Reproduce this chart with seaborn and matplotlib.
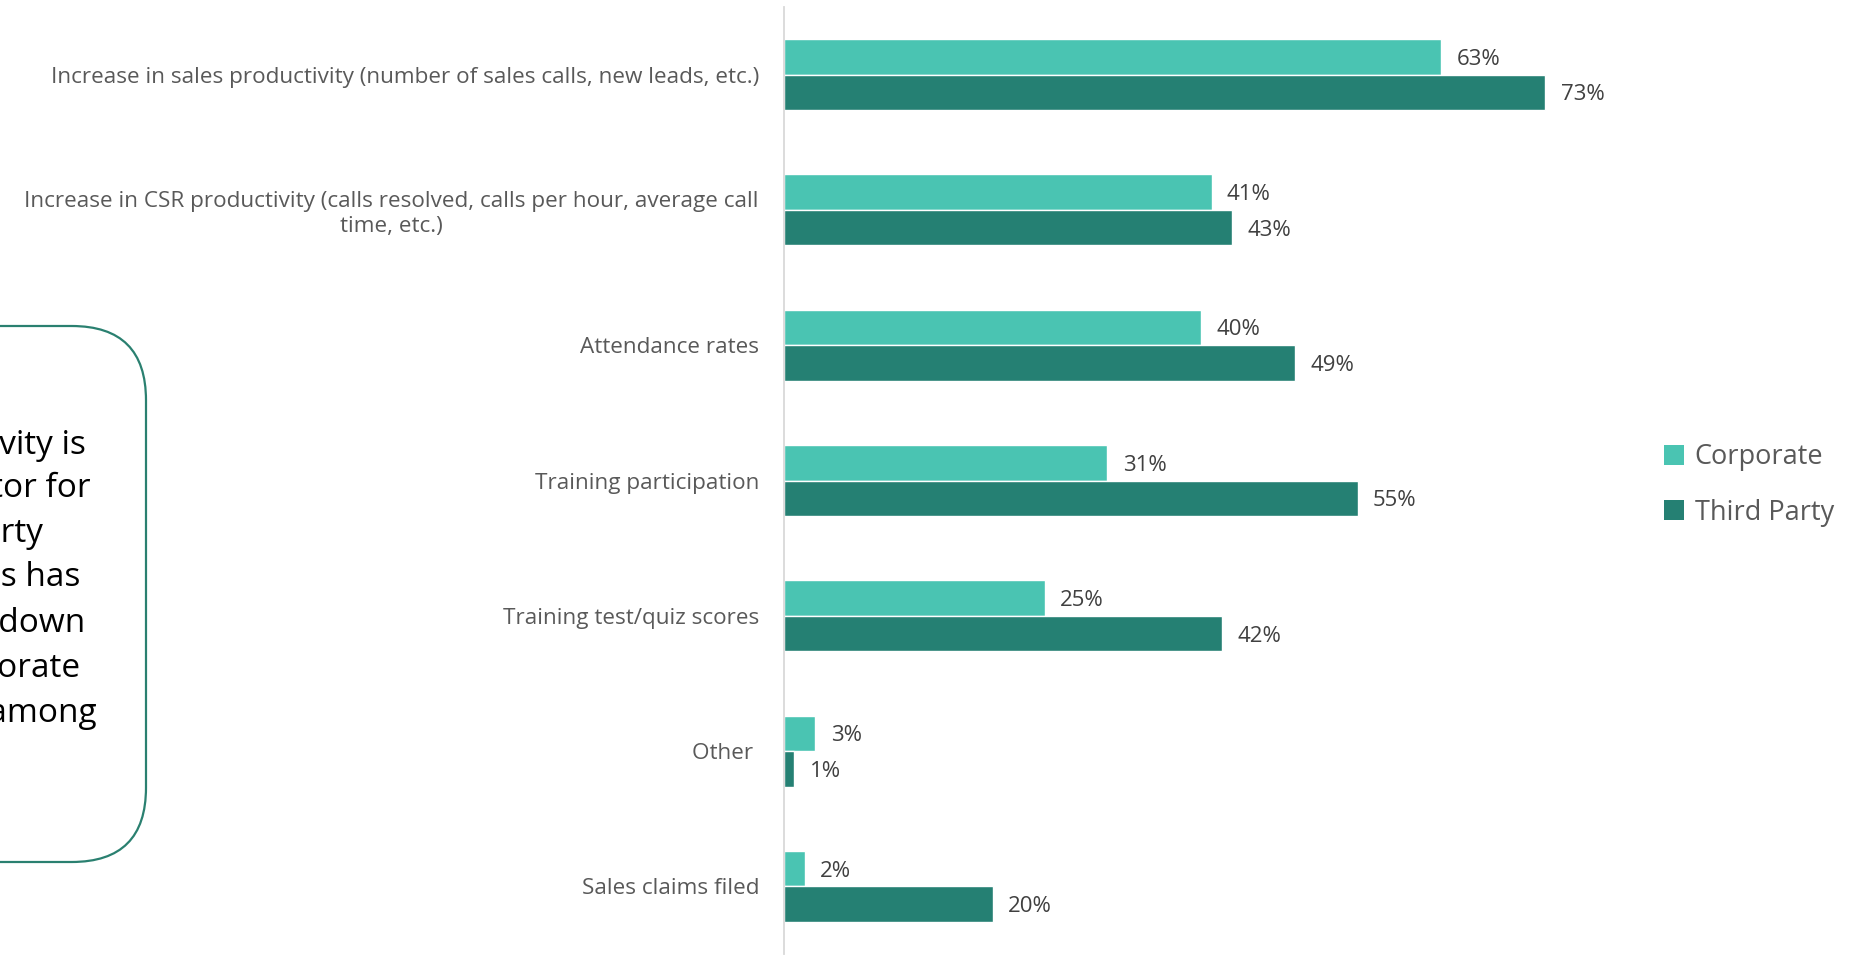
import matplotlib
matplotlib.use("Agg")
import matplotlib.pyplot as plt
from matplotlib.patches import FancyBboxPatch, Patch
import seaborn as sns
import pandas as pd

categories = [
    "Increase in sales productivity (number of sales calls, new leads, etc.)",
    "Increase in CSR productivity (calls resolved, calls per hour, average call\ntime, etc.)",
    "Attendance rates",
    "Training participation",
    "Training test/quiz scores",
    "Other ",
    "Sales claims filed",
]
corporate = [63, 41, 40, 31, 25, 3, 2]
third_party = [73, 43, 49, 55, 42, 1, 20]
series = ["Corporate", "Third Party"]
colors = ["#4AC4B2", "#258073"]

box_lines = [
    "Sales productivity is",
    "the top indicator for",
    "third party",
    "programs, this has",
    "trended down",
    "for corporate",
    "programs among",
]

sns.set_theme(style="white")
plt.rcParams["font.family"] = ["Open Sans", "DejaVu Sans"]

df = pd.DataFrame({
    "category": categories * 2,
    "value": corporate + third_party,
    "series": [series[0]] * len(categories) + [series[1]] * len(categories),
})

W, H = 1857, 959
fig = plt.figure(figsize=(W / 100, H / 100), dpi=100)
ax = fig.add_axes([784 / W, 5 / H, 1043 / W, 947 / H])

sns.barplot(data=df, y="category", x="value", hue="series", orient="h",
            palette=colors, width=0.525, saturation=1, ax=ax, legend=False,
            order=categories, hue_order=series)

ax.set_xlim(0, 100)
ax.set_ylim(6.5, -0.5)
ax.set_xlabel("")
ax.set_ylabel("")
ax.set_xticks([])
for s in ["top", "right", "bottom"]:
    ax.spines[s].set_visible(False)
ax.spines["left"].set_color("#D9D9D9")
ax.spines["left"].set_linewidth(1.3)
ax.tick_params(axis="y", length=0, pad=18, labelsize=16.2, labelcolor="#595959")
for lbl in ax.get_yticklabels():
    lbl.set_multialignment("center")

for cont in ax.containers:
    texts = ax.bar_label(cont, labels=[f"{v:.0f}%" for v in cont.datavalues],
                         padding=11, fontsize=16, color="#404040")
    for t in texts:
        t.set_va("center_baseline")

handles = [Patch(facecolor=c, edgecolor="none") for c in colors]
fig.legend(handles, series, loc="center left",
           bbox_to_anchor=(1640 / W, 1 - 485 / H), frameon=False,
           fontsize=19.5, labelcolor="#595959", handlelength=0.72,
           handleheight=0.72, handletextpad=0.4, labelspacing=1.0)

# rounded callout box running off the left edge
box = FancyBboxPatch((-300 / W, 97 / H), 446 / W, 536 / H,
                     boxstyle="round,pad=0,rounding_size=0.04",
                     transform=fig.transFigure, facecolor="white",
                     edgecolor="#2A8070", linewidth=1.6, mutation_aspect=W / H)
fig.add_artist(box)

line_ends = [86, 91, 43, 80, 85, 80, 97]
line_y = [441, 484, 530, 574, 619, 664, 709]
for txt, xe, yy in zip(box_lines, line_ends, line_y):
    fig.text(xe / W, 1 - yy / H, txt, ha="right", va="center_baseline",
             fontsize=24, color="#000000")

fig.savefig("out.png", dpi=100)
